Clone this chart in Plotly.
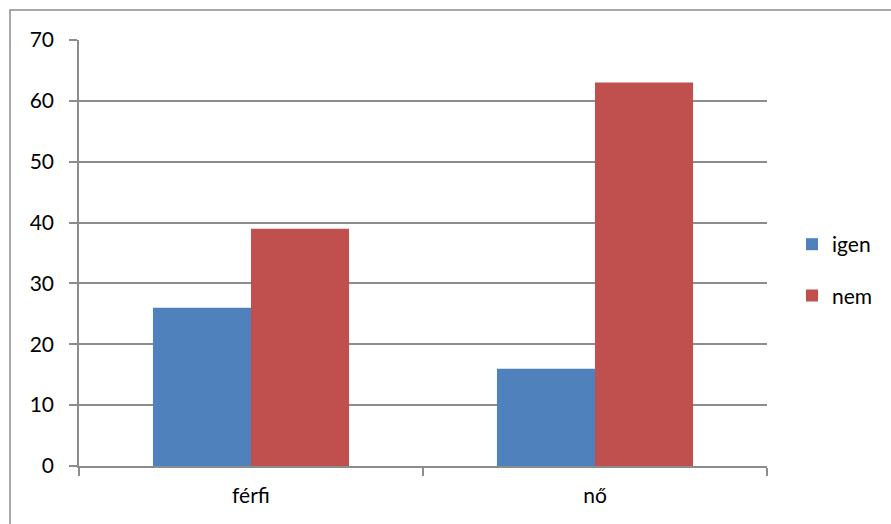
import plotly.graph_objects as go

categories = ["férfi", "nő"]
igen_values = [26, 16]
nem_values = [39, 63]
y_tick_values = [0, 10, 20, 30, 40, 50, 60, 70]

FONT = "Lato, Carlito, Calibri, sans-serif"
GRID = "#8c8c8c"

fig = go.Figure()
fig.add_trace(go.Bar(x=categories, y=igen_values, name="igen",
                     marker=dict(color="#4F81BD", line=dict(width=0)),
                     legendgroup="a"))
fig.add_trace(go.Bar(x=categories, y=nem_values, name="nem",
                     marker=dict(color="#C0504D", line=dict(width=0)),
                     legendgroup="b"))

W, H = 891, 524
L, R, T, B = 79, 124, 40, 58
pw = W - L - R
ph = H - T - B

fig.update_layout(
    width=W, height=H,
    margin=dict(l=L, r=R, t=T, b=B, pad=0, autoexpand=False),
    paper_bgcolor="white", plot_bgcolor="white",
    barmode="group", bargap=0.43, bargroupgap=0,
    font=dict(family=FONT, size=21, color="black"),
    showlegend=True,
    legend=dict(x=(792 - L) / pw, xanchor="left", y=0.46, yanchor="middle",
                traceorder="grouped", tracegroupgap=21,
                font=dict(family=FONT, size=21), itemwidth=30,
                bgcolor="rgba(0,0,0,0)"),
    xaxis=dict(showline=True, linecolor=GRID, linewidth=1.5,
               ticks="outside", ticklen=8, tickcolor=GRID, tickwidth=1.5,
               tickson="boundaries", showgrid=False, fixedrange=True,
               ticklabelstandoff=10),
    yaxis=dict(range=[0, 70], tickvals=y_tick_values, showline=True,
               linecolor=GRID, linewidth=1.5, ticks="outside", ticklen=8,
               tickcolor=GRID, tickwidth=1.5, showgrid=True, gridcolor=GRID,
               gridwidth=1.5, zeroline=False, fixedrange=True,
               ticklabelstandoff=11),
    shapes=[dict(type="rect", xref="paper", yref="paper",
                 x0=(10 - L) / pw, x1=2, y0=-1, y1=(H - B - 10) / ph,
                 line=dict(color=GRID, width=1.5), fillcolor="rgba(0,0,0,0)",
                 layer="below")],
)

fig.write_html("out.html", config={"displayModeBar": False},
               post_script="document.body.style.margin='0';document.body.style.overflow='hidden';")
